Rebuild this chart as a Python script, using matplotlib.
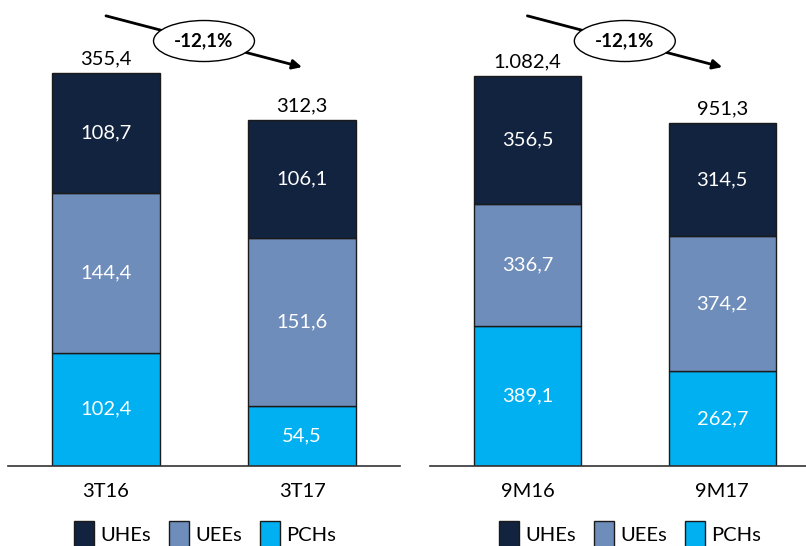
import numpy as np
import matplotlib.pyplot as plt
from matplotlib.patches import Patch
from matplotlib.transforms import blended_transform_factory

plt.rcParams['font.family'] = ['Lato', 'DejaVu Sans']

# data
series = ['UHEs', 'UEEs', 'PCHs']
colors = {'UHEs': '#12233F', 'UEEs': '#6F8DBA', 'PCHs': '#00B0F0'}

left_cats = ['3T16', '3T17']
left_pch = [102.4, 54.5]
left_uee = [144.4, 151.6]
left_uhe = [108.7, 106.1]
left_tot = [355.4, 312.3]

right_cats = ['9M16', '9M17']
right_pch = [389.1, 262.7]
right_uee = [336.7, 374.2]
right_uhe = [356.5, 314.5]
right_tot = [1082.4, 951.3]


def br(v):
    # brazilian number format: 1.082,4
    s = '{:,.1f}'.format(v)
    return s.replace(',', 'X').replace('.', ',').replace('X', '.')


def draw(ax, cats, pch, uee, uhe, tot, ytop, xmax):
    x = np.arange(len(cats))
    w = 0.55
    bottom = np.zeros(len(cats))
    for name, vals in [('PCHs', pch), ('UEEs', uee), ('UHEs', uhe)]:
        ax.bar(x, vals, w, bottom=bottom, color=colors[name],
               edgecolor='#1a1a1a', linewidth=1.0, zorder=2)
        for xi, b, v in zip(x, bottom, vals):
            ax.text(xi, b + v / 2, br(v), ha='center', va='center',
                    color='white', fontsize=14.5)
        bottom = bottom + np.array(vals)
    for xi, t in zip(x, tot):
        ax.text(xi, t + ytop * 0.012, br(t), ha='center', va='bottom',
                color='black', fontsize=14.5)

    ax.set_xlim(-0.5, xmax)
    ax.set_ylim(0, ytop)
    for s in ['top', 'left', 'right']:
        ax.spines[s].set_visible(False)
    ax.spines['bottom'].set_color('#333333')
    ax.spines['bottom'].set_linewidth(1.2)
    ax.set_yticks([])
    ax.set_xticks(x)
    ax.set_xticklabels(cats, fontsize=14.5)
    ax.tick_params(axis='x', length=0, pad=12)

    # change arrow
    tr = blended_transform_factory(ax.transData, ax.transAxes)
    ax.annotate('', xy=(1, 0.856), xytext=(0, 0.966),
                xycoords=tr, textcoords=tr,
                arrowprops=dict(arrowstyle='-|>', color='black', lw=2,
                                mutation_scale=14, shrinkA=0, shrinkB=0))
    pct = (tot[1] / tot[0] - 1) * 100
    ax.text(0.5, 0.912, br(pct) + '%', transform=tr, ha='center',
            va='center', fontsize=13.5, fontweight='bold',
            bbox=dict(boxstyle='ellipse,pad=0.32', fc='white', ec='black',
                      lw=1))

    handles = [Patch(facecolor=colors[n], edgecolor='#1a1a1a') for n in series]
    return handles


fig = plt.figure(figsize=(8.06, 5.46), dpi=100)
W, H = 806, 546
ax1 = fig.add_axes([8 / W, (H - 466) / H, 392 / W, 466 / H])
ax2 = fig.add_axes([430 / W, (H - 466) / H, 376 / W, 466 / H])

h1 = draw(ax1, left_cats, left_pch, left_uee, left_uhe, left_tot, 421, 1.5)
h2 = draw(ax2, right_cats, right_pch, right_uee, right_uhe, right_tot, 1293, 1.43)

leg_kw = dict(loc='center', ncol=3, frameon=False, fontsize=14.5,
              handlelength=1.0, handleheight=1.6, handletextpad=0.3,
              columnspacing=0.9)
fig.legend(h1, series, bbox_to_anchor=(205 / W, 12 / H), **leg_kw)
fig.legend(h2, series, bbox_to_anchor=(630 / W, 12 / H), **leg_kw)

fig.savefig('out.png', dpi=100)
